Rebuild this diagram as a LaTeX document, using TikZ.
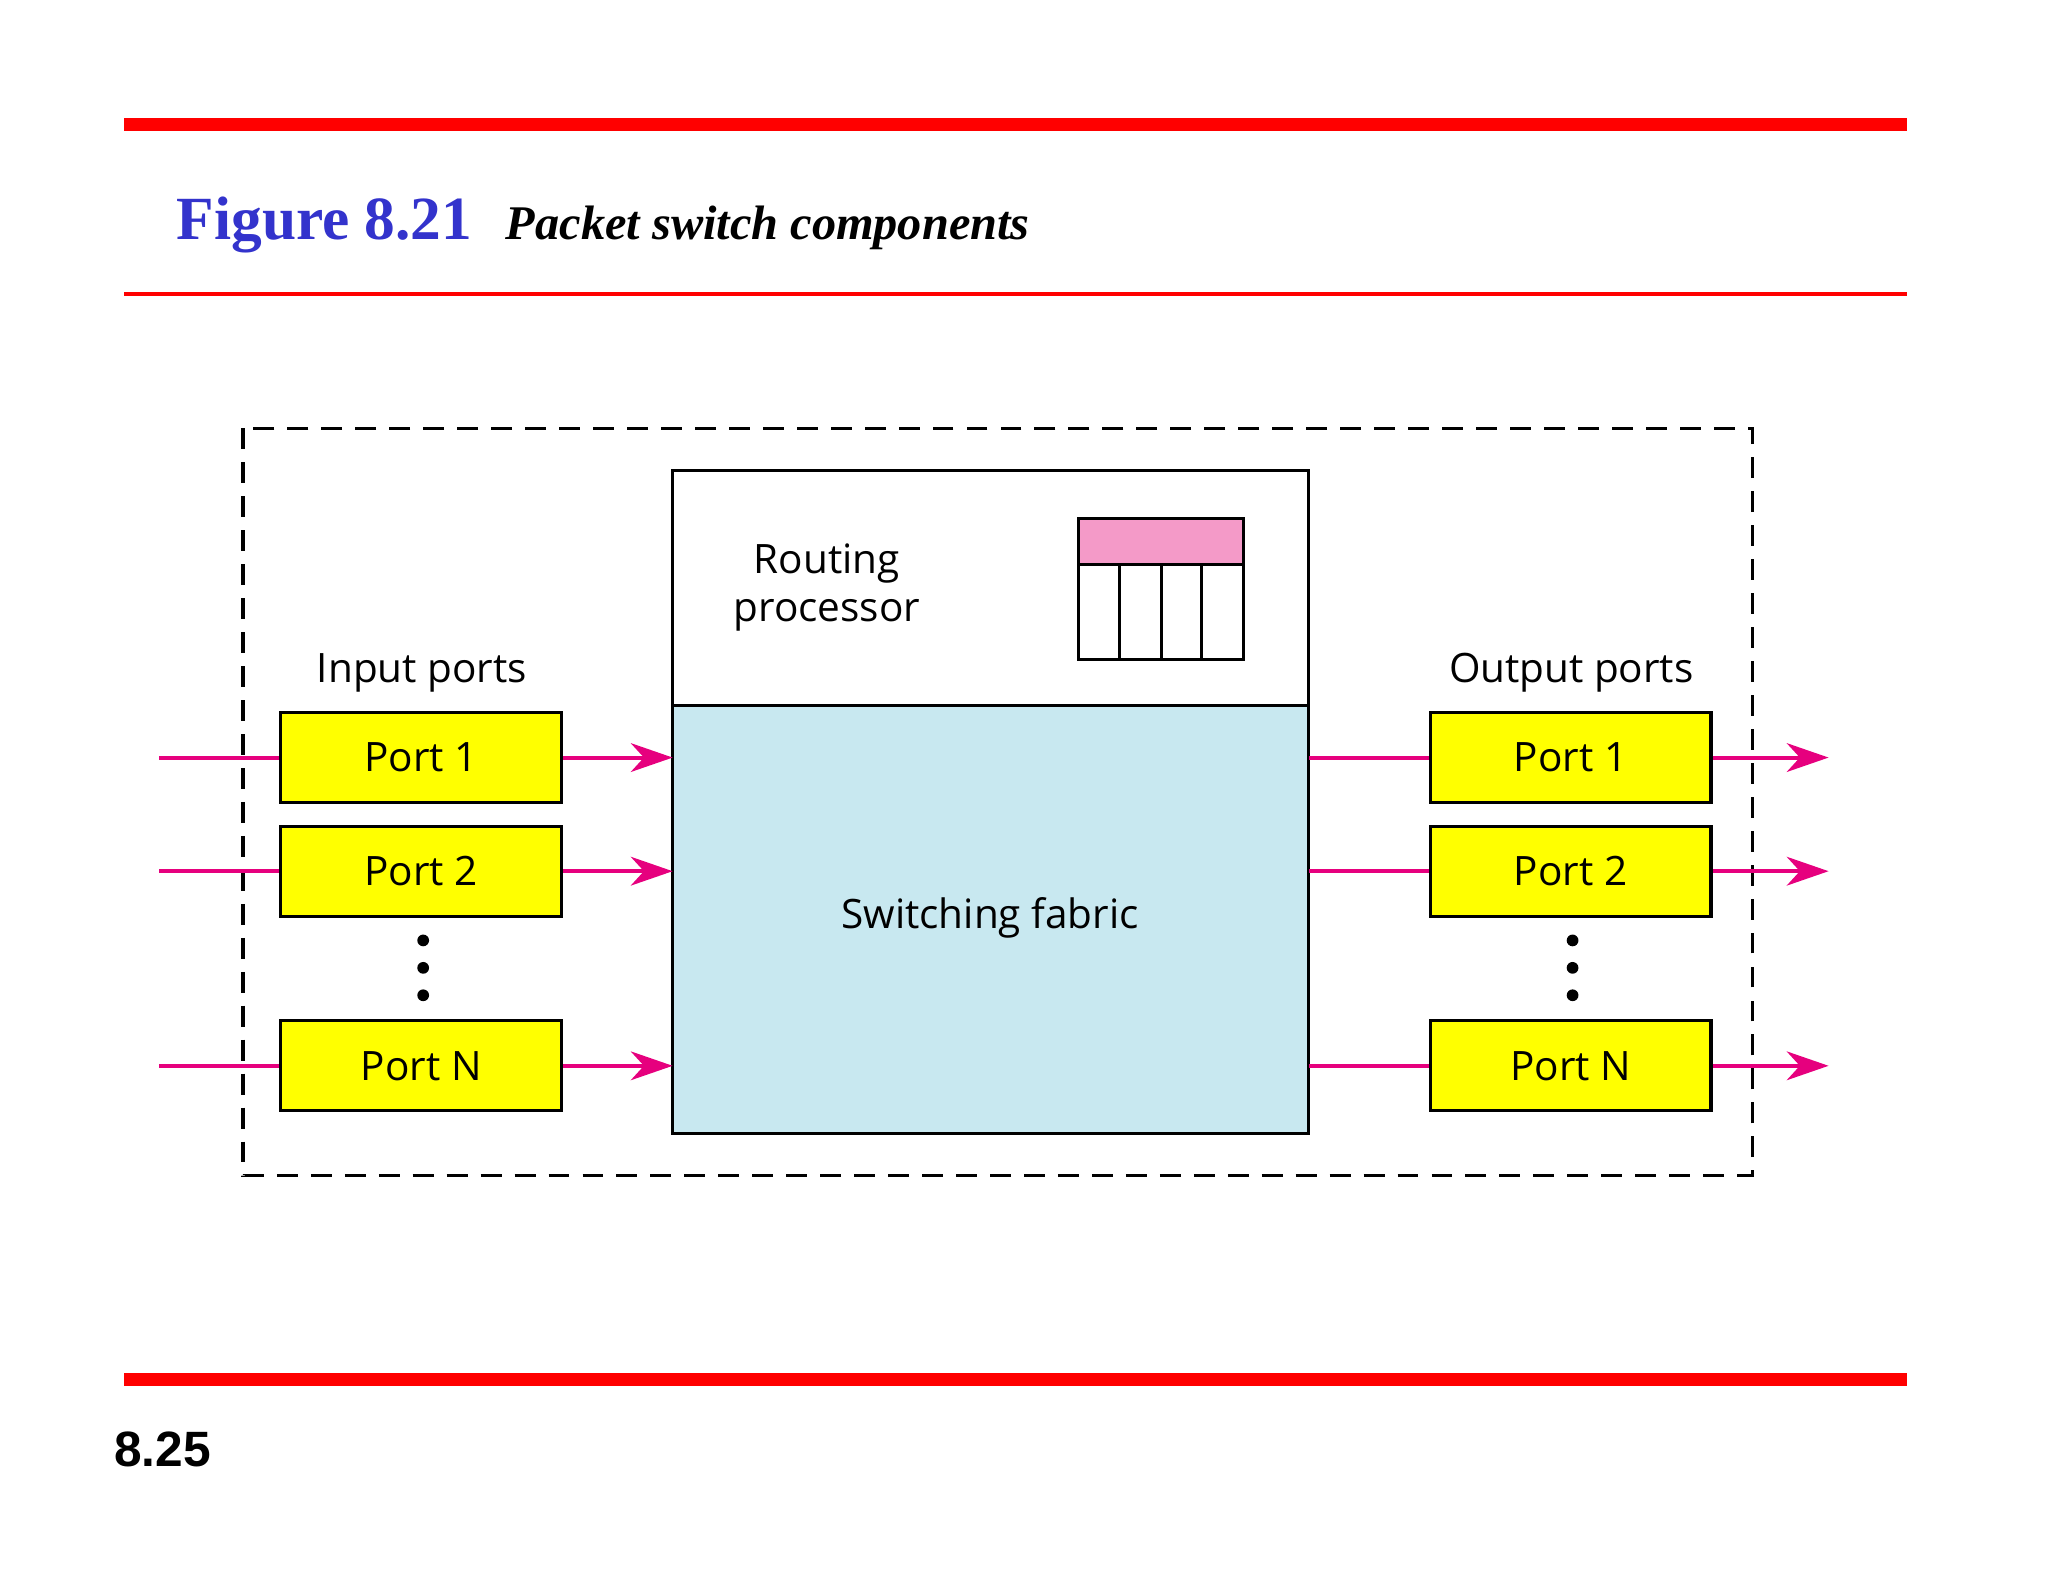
\documentclass[tikz,border=0pt]{standalone}
\usepackage{fontspec}
\setmainfont{Open Sans}
\newfontfamily\tms{Liberation Serif}
\newfontfamily\arl{Liberation Sans}
\usetikzlibrary{arrows.meta}
\definecolor{redline}{HTML}{FF0000}
\definecolor{figblue}{HTML}{3333CC}
\definecolor{pinkline}{HTML}{E6007E}
\definecolor{fabric}{HTML}{C8E8F0}
\definecolor{pinkhead}{HTML}{F49AC8}
\definecolor{portyel}{HTML}{FFFF00}
\tikzset{
  port/.style={draw, line width=1.2pt, fill=portyel, minimum width=107.5pt, minimum height=34.5pt, inner sep=0pt, font=\fontsize{15.5}{15.5}\selectfont},
  lab/.style={font=\fontsize{15.5}{15.5}\selectfont},
  wire/.style={pinkline, line width=1.5pt},
  arr/.style={wire, -{Stealth[length=16pt,width=11pt,inset=5pt]}},
  dot/.style={circle, fill, inner sep=0pt, minimum size=4.5pt}
}
\begin{document}
\begin{tikzpicture}[x=0.5pt, y=-0.5pt]
\useasboundingbox (0,0) rectangle (1568,1211);
% header and footer rules
\draw[redline, line width=5pt] (95,95) -- (1460,95);
\draw[redline, line width=1.5pt] (95,225) -- (1460,225);
\draw[redline, line width=5pt] (95,1056) -- (1460,1056);
\node[anchor=base west, inner sep=0pt, text=figblue, font=\tms\bfseries\fontsize{23.5}{23.5}\selectfont] (fig) at (135,183) {Figure 8.21};
\node[anchor=base west, inner sep=0pt, font=\tms\bfseries\itshape\fontsize{18.5}{18.5}\selectfont] (cap) at (387,183) {Packet switch components};
\node[anchor=base west, inner sep=0pt, font=\arl\bfseries\fontsize{19}{19}\selectfont] (pg) at (87,1123) {8.25};
% switch outline
\draw[line width=1.2pt, dash pattern=on 8pt off 5pt] (186,328) rectangle (1342,900);
\node[draw, line width=1.2pt, fill=white, minimum width=243.5pt, minimum height=90pt, inner sep=0pt] (rp) at (758.5,450) {};
\node[draw, line width=1.2pt, fill=fabric, minimum width=243.5pt, minimum height=164pt, inner sep=0pt] (sf) at (758.5,704) {};
\node[lab, align=center] (rptxt) at (633,450) {Routing\\[3pt]processor};
\node[lab] (sftxt) at (758,703) {Switching fabric};
% routing table
\fill[pinkhead] (826,397) rectangle (952,432);
\draw[line width=1.2pt] (826,397) rectangle (952,505);
\draw[line width=1.2pt] (826,432) -- (952,432);
\foreach \x in {857,889,920} \draw[line width=1.2pt] (\x,432) -- (\x,505);
% ports
\node[lab] (inlab) at (323,515) {Input ports};
\node[lab] (outlab) at (1203,515) {Output ports};
\foreach \n/\t/\y in {1/Port 1/580, 2/Port 2/667, N/Port N/816} {
  \node[port] (in\n) at (322.5,\y) {\t};
  \node[port] (out\n) at (1202.5,\y) {\t};
  \coordinate (src\n) at (122,\y);
  \coordinate (fi\n) at (515,\y);
  \coordinate (fo\n) at (1002,\y);
  \coordinate (dst\n) at (1400,\y);
  \draw[wire] (src\n) -- (in\n.west);
  \draw[arr] (in\n.east) -- (fi\n);
  \draw[wire] (fo\n) -- (out\n.west);
  \draw[arr] (out\n.east) -- (dst\n);
}
\foreach \y in {720,741,762} {
  \node[dot] at (324,\y) {};
  \node[dot] at (1204,\y) {};
}
\end{tikzpicture}
\end{document}
